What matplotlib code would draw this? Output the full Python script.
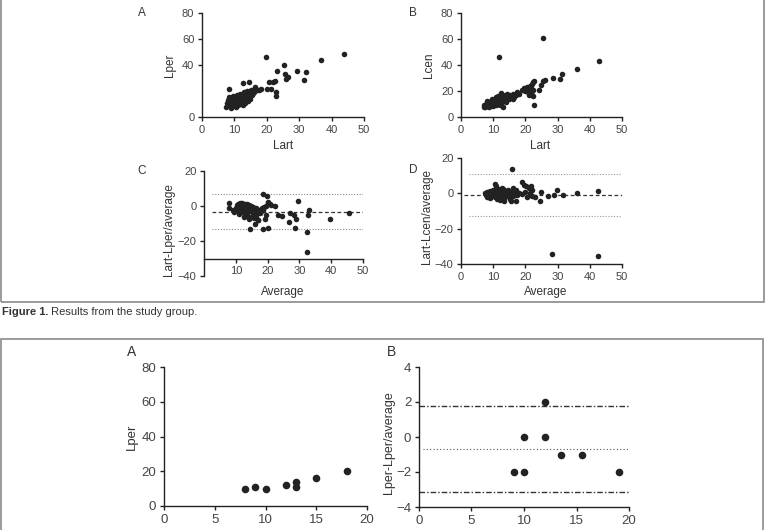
import matplotlib
matplotlib.use("Agg")
import matplotlib.pyplot as plt
from matplotlib.patches import Rectangle

plt.rcParams['font.family'] = ['Liberation Sans', 'DejaVu Sans']
NARROW = ['Liberation Sans Narrow', 'Liberation Sans', 'DejaVu Sans']

# ---- Figure 1, panel A: Lart vs Lper
a_lart = [7.5, 7.8, 8, 8.2, 8.5, 8.8, 9, 9.2, 9.5, 9.8, 10, 10.2, 10.5, 10.5, 10.8, 11, 11, 11.2,
          11.5, 11.5, 11.8, 12, 12, 12.2, 12.5, 12.5, 12.8, 13, 13, 13.2, 13.5, 13.5, 13.8, 14, 14,
          14.2, 14.5, 14.5, 14.8, 15, 15, 15.3, 15.5, 16, 16.5, 9.5, 10, 11, 12, 12.5, 13, 8, 9,
          10.5, 11.5, 12.8, 13.5, 14.5, 15.8, 17,
          19.6, 25.3, 23.2, 25.6, 26.4, 25.8, 29.4, 31.5, 32, 36.8, 43.9, 20.8, 21.9, 22.5,
          8.3, 12.5, 14.5, 22.9, 22.7, 16.3, 18.2, 20.1, 21.4, 17.5]
a_lper = [8, 11, 13, 15, 10, 7, 12, 14, 16, 11, 13, 9, 15, 12, 17, 10, 14, 12,
          16, 11, 18, 13, 15, 10, 17, 12, 14, 19, 16, 11, 13, 18, 15, 17, 20,
          12, 16, 19, 14, 18, 21, 17, 20, 19, 22, 9, 10, 9, 11, 9, 13, 9, 8.5,
          8, 13, 16, 15.5, 13.5, 18.5, 21,
          45.8, 40, 34.9, 32.6, 30.5, 29.3, 34.9, 28.5, 34.4, 43.8, 48.1, 26.5, 26.5, 27.7,
          21.4, 25.7, 26.7, 15.8, 18.8, 22.9, 21.4, 21.4, 21.4, 20.9]

# ---- panel B: Lart vs Lcen
b_lart = [7, 7.2, 7.5, 7.8, 8, 8.3, 8.5, 8.8, 9, 9.2, 9.5, 9.8, 10, 10, 10.3, 10.5, 10.5, 10.8,
          11, 11, 11.2, 11.5, 11.5, 11.8, 12, 12, 12.3, 12.5, 12.8, 13, 13, 13.3, 13.5, 13.8, 14,
          14.3, 14.5, 15, 15, 15.5, 16, 16.5, 17, 17.5, 18, 19, 19.5, 20, 20.5, 20.8, 21, 21,
          21.3, 21.5, 21.8, 22, 22, 22.3, 22.5, 8, 9.5, 12.5, 14, 16,
          25.6, 11.9, 42.9, 36.1, 31.4, 30.9, 28.7, 26.2, 22.7, 24.9, 24.2, 25.6, 22.8, 22.5]
b_lcen = [8, 9.5, 7.5, 10, 8.5, 11, 9, 7.8, 10.5, 12, 9, 11, 13, 8.5, 10, 14, 12, 9.5,
          15, 11, 13, 10, 16, 12.5, 14, 9, 11, 15, 13, 8, 17, 12, 14.5, 16, 13,
          18, 15, 17, 14, 16, 18, 15.5, 17, 19, 18, 21, 22, 20, 23, 19, 21.5, 17,
          24, 19.5, 22, 16.5, 25, 20.5, 26.5, 12, 13.5, 18.5, 11.5, 13.5,
          60.9, 46.4, 42.8, 36.7, 32.6, 29.3, 29.6, 28.5, 9.2, 24.5, 20.9, 27.8, 27.3, 15.8]

# ---- panel C: Bland-Altman Lart-Lper
c_avg = [10, 10.3, 10.5, 10.8, 11, 11.2, 11.5, 11.8, 12, 12, 12.3, 12.5, 12.8, 13, 13.2, 13.5,
         13.5, 13.8, 14, 14.2, 14.5, 14.5, 14.8, 15, 15.3, 15.5, 15.8, 16, 16.3, 16.5, 16.8, 17,
         17.3, 17.5, 18, 18.3, 18.5, 19, 19.5, 9, 11, 12.5, 13, 14, 20, 21,
         7.8, 7.8, 9.5, 18.6, 19.7, 20.2, 20.7, 22.3, 23.4, 24.4, 29.5, 32.8, 33, 32.3, 32.3,
         39.7, 45.5, 26.8, 28.6, 28.8, 27.2, 28.2, 14.6, 18.6, 20, 16, 17.1, 19.3, 19.5, 16.5]
c_diff = [-1, 0.5, -2, 1, -0.5, 1.5, -3, 0, 2, -1.5, 0.8, -4, 1.2, -2, 0, -5,
          1, -1, -3, 0.5, -6, -1.5, 0, -2.5, -4, -0.5, -7, -2, -5, -1, -3, -8,
          -2, -4, -3, -1, -2, -0.5, 0, -2, -4.5, -6, -3.5, -7.5, 1.5, 0.5,
          1.7, -1, -3.4, 7, 5.7, 2.3, 1.3, 0, -5.3, -5.7, 2.9, -5, -2.5, -14.9, -26.5,
          -7.2, -4, -9.1, -12.4, -7.6, -3.8, -5, -13.3, -13.3, -12.4, -10.5, -8.2, -7.2, -5.3, -6.3]
c_mean, c_upper, c_lower = -3.4, 6.9, -13.1

# ---- panel D: Bland-Altman Lart-Lcen
d_avg = [7.5, 7.8, 8, 8.2, 8.5, 8.8, 9, 9.2, 9.5, 9.8, 10, 10.2, 10.5, 10.8, 11, 11.2, 11.5,
         11.8, 12, 12.3, 12.5, 12.8, 13, 13.2, 13.5, 13.8, 14, 14.3, 14.5, 14.8, 15, 15.3, 15.5,
         16, 16.5, 17, 17.5, 18, 19, 20, 20.5, 21, 21.5, 22, 23, 11, 13, 16, 9, 12,
         15.7, 28.4, 42.5, 42.5, 36, 31.6, 29.7, 28.8, 26.9, 24.8, 24.5, 22.2, 18.9, 19.6,
         20.3, 21.7, 10.5, 15.4, 17]
d_diff = [0, -1, 1, -2, 0.5, -0.5, 1.5, -1.5, 0, 2, -1, 0.8, -2, 1.2, 0, -3, 2.5,
          -0.8, 1, -1.8, 0.3, 3, -1, -4.5, 0.5, -2, 1.5, -0.5, 2, -1.2, 0, -3, 1,
          -1.5, 0.5, 2, -1, 0, -0.5, 1, -2, 3, 0, 2, -2, 4, 2.5, 3, -2.8, -3.5,
          13.8, -34.4, -35.2, 1.1, 0.2, -0.8, 2.1, -0.8, -1.7, 0.6, -4.2, -1.7, 6.2, 4.7,
          4, 4, 5.3, -4.5, -4.5]
d_mean, d_upper, d_lower = -0.9, 10.9, -12.8

# ---- Figure 2
e_x = [8, 9, 10, 12, 13, 13, 15, 18]
e_y = [10, 11, 10, 12, 14, 11, 16, 20]
f_avg = [9, 10, 10, 12, 12, 13.5, 15.5, 19]
f_diff = [-2, 0, -2, 2, 0, -1, -1, -2]
f_mean, f_upper, f_lower = -0.7, 1.75, -3.15

W, H = 771, 530
fig = plt.figure(figsize=(W / 100, H / 100), dpi=100)


def px_axes(x0, y0, x1, y1):
    # pixel box (left, top, right, bottom) -> axes
    return fig.add_axes([x0 / W, 1 - y1 / H, (x1 - x0) / W, (y1 - y0) / H])


def style(ax, fs=8):
    for s in ['top', 'right']:
        ax.spines[s].set_visible(False)
    for s in ['left', 'bottom']:
        ax.spines[s].set_linewidth(1.0)
        ax.spines[s].set_color('#222222')
    ax.tick_params(direction='out', length=3, width=1.0, labelsize=fs,
                   color='#222222', labelcolor='#444444', pad=2.5)
    ax.set_facecolor('none')


def ftext(x, y, s, **kw):
    fig.text(x / W, 1 - y / H, s, ha='center', va='center', color='#333333', **kw)


# frames
fig.patches.append(Rectangle((1 / W, 1 - 302 / H), 763 / W, 302 / H + 0.01,
                             transform=fig.transFigure, fill=False, ec='#8a8a8a', lw=1.2))
fig.patches.append(Rectangle((1 / W, -0.05), 762 / W, 1 - 339 / H + 0.05,
                             transform=fig.transFigure, fill=False, ec='#8a8a8a', lw=1.2))

dot = dict(s=16, color='#222222', linewidths=0, zorder=3)

# panel A
ax = px_axes(202, 12.7, 364, 117)
ax.scatter(a_lart, a_lper, **dot)
ax.set_xlim(0, 50)
ax.set_ylim(0, 80)
ax.set_xticks([0, 10, 20, 30, 40, 50])
ax.set_yticks([0, 40, 60, 80])
style(ax)

# panel B
ax = px_axes(461, 12.7, 622, 117)
ax.scatter(b_lart, b_lcen, **dot)
ax.set_xlim(0, 50)
ax.set_ylim(0, 80)
ax.set_xticks([0, 10, 20, 30, 40, 50])
ax.set_yticks([0, 20, 40, 60, 80])
style(ax)

# panel C
ax = px_axes(204, 171, 363, 276)
ax.scatter(c_avg, c_diff, **dot)
ax.axhline(c_mean, xmin=0.05, color='#333333', lw=0.9, ls=(0, (3, 2)))
ax.axhline(c_upper, xmin=0.05, color='#888888', lw=0.8, ls=(0, (1, 1.5)))
ax.axhline(c_lower, xmin=0.05, color='#888888', lw=0.8, ls=(0, (1, 1.5)))
ax.set_xlim(0, 50)
ax.set_ylim(-40, 20)
ax.set_xticks([10, 20, 30, 40, 50])
ax.set_yticks([-40, -20, 0, 20])
style(ax)
ax.spines['bottom'].set_position(('data', -30))

# panel D
ax = px_axes(461, 158, 622, 264)
ax.scatter(d_avg, d_diff, **dot)
ax.axhline(d_mean, xmin=0.02, color='#333333', lw=0.9, ls=(0, (3, 2)))
ax.axhline(d_upper, xmin=0.05, color='#999999', lw=0.8, ls=(0, (1, 1.5)))
ax.axhline(d_lower, xmin=0.05, color='#999999', lw=0.8, ls=(0, (1, 1.5)))
ax.set_xlim(0, 50)
ax.set_ylim(-40, 20)
ax.set_xticks([0, 10, 20, 30, 40, 50])
ax.set_yticks([-40, -20, 0, 20])
style(ax)

# figure 2 panels
dot2 = dict(s=30, color='#222222', linewidths=0, zorder=3)
ax = px_axes(164, 367, 367, 506)
ax.scatter(e_x, e_y, **dot2)
ax.set_xlim(0, 20)
ax.set_ylim(0, 80)
ax.set_xticks([0, 5, 10, 15, 20])
ax.set_yticks([0, 20, 40, 60, 80])
style(ax, fs=9.5)

ax = px_axes(419, 367, 629, 507)
ax.scatter(f_avg, f_diff, **dot2)
ax.axhline(f_upper, color='#333333', lw=1.0, ls=(0, (4, 1.5, 1, 1.5)))
ax.axhline(f_lower, color='#333333', lw=1.0, ls=(0, (4, 1.5, 1, 1.5)))
ax.axhline(f_mean, xmin=0.02, color='#555555', lw=0.8, ls=(0, (1, 2)))
ax.set_xlim(0, 20)
ax.set_ylim(-4, 4)
ax.set_xticks([0, 5, 10, 15, 20])
ax.set_yticks([-4, -2, 0, 2, 4])
style(ax, fs=9.5)

# axis labels and panel letters
lab = dict(fontsize=8.5, family=NARROW)
ftext(170, 65, 'Lper', rotation=90, **lab)
ftext(429, 65, 'Lcen', rotation=90, **lab)
ftext(283, 146, 'Lart', **lab)
ftext(540, 146, 'Lart', **lab)
ftext(169, 230, 'Lart-Lper/average', rotation=90, **lab)
ftext(427, 217, 'Lart-Lcen/average', rotation=90, **lab)
ftext(283, 292, 'Average', **lab)
ftext(546, 292, 'Average', **lab)
ftext(132, 437, 'Lper', rotation=90, fontsize=9.5, family=NARROW)
ftext(389, 443, 'Lper-Lper/average', rotation=90, fontsize=9, family=NARROW)

for x, y, s, fs in [(142, 13, 'A', 8.5), (413, 13, 'B', 8.5), (142, 171, 'C', 8.5),
                    (413, 170, 'D', 8.5), (132, 352, 'A', 10), (391, 352, 'B', 10)]:
    ftext(x, y, s, fontsize=fs, family=NARROW)

# caption
cap = fig.text(2 / W, 1 - 312 / H, 'Figure 1.', fontsize=8, fontweight='bold',
               family=NARROW, va='center', ha='left', color='#333333')
fig.add_artist(plt.Annotation(' Results from the study group.', xy=(1, 0.5), xycoords=cap,
                              va='center', ha='left', fontsize=8, family=NARROW,
                              color='#333333', annotation_clip=False))

fig.savefig('out.png', dpi=100)
